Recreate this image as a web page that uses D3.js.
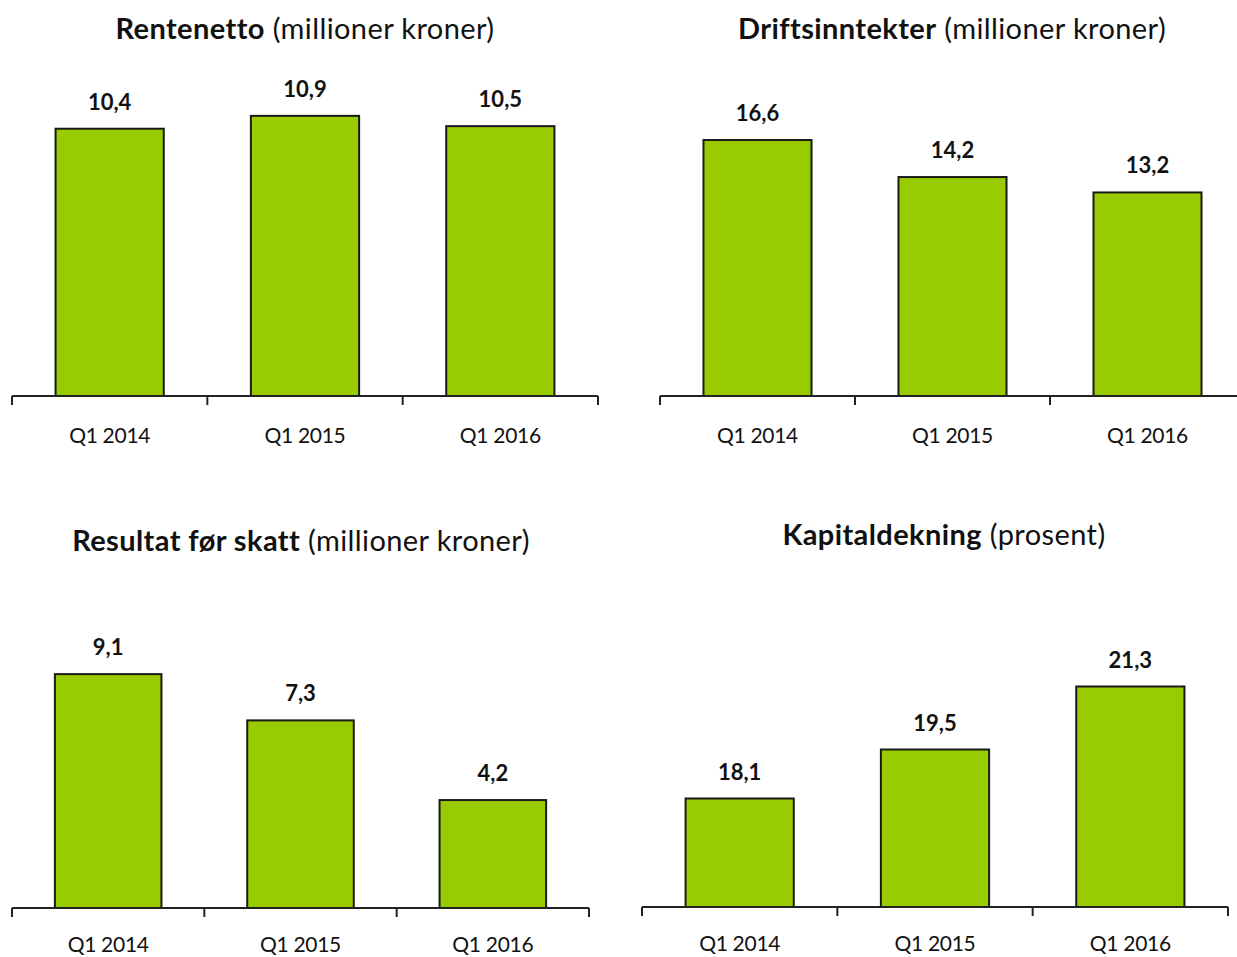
<!DOCTYPE html>
<html><head><meta charset="utf-8">
<script src="https://cdn.jsdelivr.net/npm/d3@7"></script>
<style>
html,body{margin:0;padding:0;background:#fff;}
svg{display:block;font-family:Lato,"Open Sans",sans-serif;}
</style></head>
<body>
<svg id="c" width="1237" height="957"></svg>
<script>
const categories = ["Q1 2014", "Q1 2015", "Q1 2016"];
const rentenetto = [10.4, 10.9, 10.5];
const driftsinntekter = [16.6, 14.2, 13.2];
const resultatForSkatt = [9.1, 7.3, 4.2];
const kapitaldekning = [18.1, 19.5, 21.3];
const titlesBold = ["Rentenetto", "Driftsinntekter", "Resultat før skatt", "Kapitaldekning"];
const titlesRest = [" (millioner kroner)", " (millioner kroner)", " (millioner kroner)", " (prosent)"];
const seriesList = [rentenetto, driftsinntekter, resultatForSkatt, kapitaldekning];

// layout (positions only)
const panels = [
  {x0: 12,  x1: 598,  base: 396, dom: [0, 14],  top: 396 - 14 * 25.7, tx: 305, ty: 39, cy: 443},
  {x0: 660, x1: 1245, base: 396, dom: [0, 20],  top: 396 - 20 * 15.42, tx: 952, ty: 39, cy: 443},
  {x0: 12,  x1: 589,  base: 908, dom: [0, 14],  top: 908 - 14 * 25.7, tx: 301, ty: 551, cy: 952},
  {x0: 642, x1: 1228, base: 907, dom: [15, 24], top: 907 - 9 * 35.0, tx: 944, ty: 545, cy: 951}
];

const svg = d3.select("#c");
const fmt = v => d3.format(".1f")(v).replace(".", ",");

panels.forEach((p, i) => {
  const vals = seriesList[i];
  const data = categories.map((c, j) => ({c, v: vals[j]}));
  const x = d3.scaleBand().domain(categories).range([p.x0, p.x1])
    .paddingInner(0.446).paddingOuter(0.223);
  const y = d3.scaleLinear().domain(p.dom).range([p.base, p.top]);
  const g = svg.append("g");

  // title
  const t = g.append("text").attr("x", p.tx).attr("y", p.ty)
    .attr("text-anchor", "middle").attr("font-size", 29).attr("fill", "#111")
    .attr("letter-spacing", 0.4);
  t.append("tspan").attr("font-weight", 700).text(titlesBold[i]);
  t.append("tspan").attr("font-weight", 400).text(titlesRest[i]);

  // bars
  g.selectAll("rect").data(data).join("rect")
    .attr("x", d => x(d.c)).attr("width", x.bandwidth())
    .attr("y", d => y(d.v)).attr("height", d => y(p.dom[0]) - y(d.v))
    .attr("fill", "#99cc00").attr("stroke", "#1a1a1a").attr("stroke-width", 2);

  // value labels
  g.selectAll("text.val").data(data).join("text").attr("class", "val")
    .attr("x", d => x(d.c) + x.bandwidth() / 2).attr("y", d => y(d.v) - 19)
    .attr("text-anchor", "middle").attr("font-size", 22).attr("font-weight", 700)
    .attr("fill", "#111").text(d => fmt(d.v));

  // axis line + boundary ticks
  const step = x.step();
  const bounds = d3.range(categories.length + 1).map(k => p.x0 + k * step);
  g.append("line").attr("x1", p.x0).attr("x2", p.x1).attr("y1", p.base).attr("y2", p.base)
    .attr("stroke", "#222").attr("stroke-width", 2);
  g.selectAll("line.tick").data(bounds).join("line").attr("class", "tick")
    .attr("x1", d => d).attr("x2", d => d).attr("y1", p.base).attr("y2", p.base + 9)
    .attr("stroke", "#222").attr("stroke-width", 2);

  // category labels
  g.selectAll("text.cat").data(categories).join("text").attr("class", "cat")
    .attr("x", d => x(d) + x.bandwidth() / 2).attr("y", p.cy)
    .attr("text-anchor", "middle").attr("font-size", 21).attr("fill", "#111")
    .attr("letter-spacing", -0.3)
    .text(d => d);
});
</script>
</body></html>
